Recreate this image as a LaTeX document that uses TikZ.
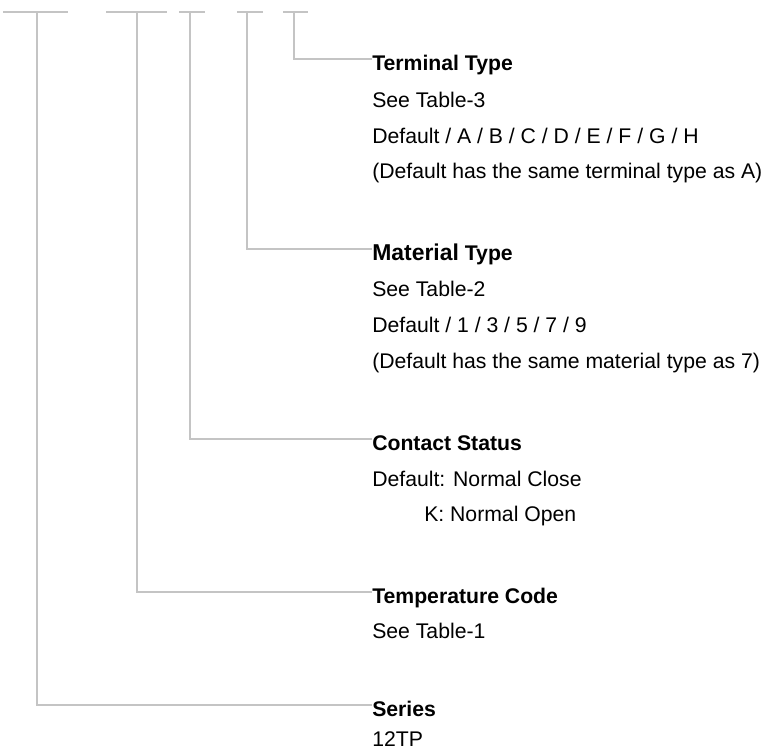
\documentclass[tikz,border=0pt]{standalone}
\usepackage{fontspec}
\setmainfont{Liberation Sans}
\definecolor{leadgray}{RGB}{196,196,196}
\tikzset{
  lead/.style={draw=leadgray, line width=1.4pt},
  title/.style={anchor=base west, inner sep=0pt, text height=15.9pt, text depth=0pt,
    font=\fontsize{15.9}{18}\selectfont\bfseries},
  info/.style={anchor=base west, inner sep=0pt, font=\fontsize{15.9}{18}\selectfont},
}
\begin{document}
\begin{tikzpicture}[x=0.75pt, y=-0.75pt]
  \useasboundingbox (0,0) rectangle (767,751);
  % code positions along the top
  \foreach \l/\r/\m/\n in {3/68/37/ser, 106/167/137/tmp, 179/205/190/con, 237/263/247/mat, 283/308/294/ter} {
    \draw[lead] (\l,12) -- (\r,12);
    \coordinate (\n) at (\m,12);
  }
  % terminal type
  \node[title] (terT) at (372,70) {Terminal Type};
  \node[info] (ter1) at (372,107) {See Table-3};
  \node[info] (ter2) at (372,143) {Default / A / B / C / D / E / F / G / H};
  \node[info] (ter3) at (372,178) {(Default has the same terminal type as A)};
  % material type
  \node[title] (matT) at (372,260) {{\fontsize{17.2}{20}\selectfont Material} Type};
  \node[info] (mat1) at (372,296) {See Table-2};
  \node[info] (mat2) at (372,332) {Default / 1 / 3 / 5 / 7 / 9};
  \node[info] (mat3) at (372,368) {(Default has the same material type as 7)};
  % contact status
  \node[title] (conT) at (372,450) {Contact Status};
  \node[info] (con1) at (372,486) {Default: Normal Close};
  \node[info] (con2) at (424,521) {K: Normal Open};
  % temperature code
  \node[title] (tmpT) at (372,603) {Temperature Code};
  \node[info] (tmp1) at (372,638) {See Table-1};
  % series
  \node[title] (serT) at (372,716) {Series};
  \node[info] (ser1) at (372,746) {12TP};
  % leaders
  \draw[lead] (ter) |- (terT.west);
  \draw[lead] (mat) |- (matT.west);
  \draw[lead] (con) |- (conT.west);
  \draw[lead] (tmp) |- (tmpT.west);
  \draw[lead] (ser) |- (serT.west);
\end{tikzpicture}
\end{document}
